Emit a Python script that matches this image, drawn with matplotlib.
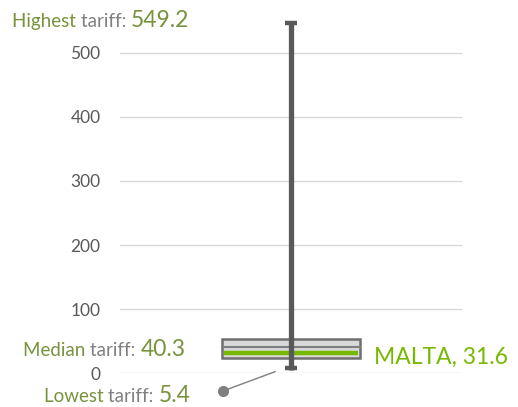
import matplotlib
matplotlib.use("Agg")
import matplotlib.pyplot as plt

plt.rcParams['font.family'] = ['Lato', 'DejaVu Sans']

# data (tariff distribution)
low_val = 5.4
q1_val = 24.0
median_val = 40.3
q3_val = 54.0
high_val = 549.2
country = "MALTA"
country_val = 31.6
yticks = [0, 100, 200, 300, 400, 500]

olive = '#77933C'
grey_txt = '#7F7F7F'
bright = '#76B900'
dark = '#595959'

W, H = 518, 407
fig = plt.figure(figsize=(W / 100, H / 100), dpi=100)
ax = fig.add_axes([120 / W, (H - 373.3) / H, 342 / W, 560 * 0.6412 / H])
ax.set_xlim(-1, 1)
ax.set_ylim(0, 560)

# grid
for v in yticks:
    ax.axhline(v, color='#D9D9D9', lw=1.0, zorder=0)
for s in ax.spines.values():
    s.set_visible(False)
ax.set_xticks([])
ax.set_yticks(yticks)
ax.tick_params(axis='y', length=0, pad=14, labelsize=12.5, labelcolor=dark)

# box
box_w = 138 / 342 * 2
ax.bar(0, q3_val - q1_val, bottom=q1_val, width=box_w, color='#D9D9D9',
       edgecolor='#6F6F6F', linewidth=1.8, zorder=2)
ax.plot([-box_w / 2, box_w / 2], [median_val, median_val], color='#7F7F7F', lw=1.5, zorder=3)
ax.plot([-box_w / 2 + 0.01, box_w / 2 - 0.01], [country_val, country_val], color=bright, lw=3.2,
        solid_capstyle='butt', zorder=3)

# whisker
ax.plot([0, 0], [low_val, high_val], color=dark, lw=3.8, solid_capstyle='butt', zorder=4)
cap_w = 12 / 342 * 2
for v, off in [(high_val, -3), (low_val, 3)]:
    ax.plot([-cap_w / 2, cap_w / 2], [v + off, v + off], color=dark, lw=3.2,
            solid_capstyle='butt', zorder=4)

renderer = fig.canvas.get_renderer()


def rich_text(x_px, base_px, parts):
    x = x_px
    for txt, col, size in parts:
        t = fig.text(x / W, 1 - base_px / H, txt, color=col, fontsize=size,
                     va='baseline', ha='left')
        x += t.get_window_extent(renderer).width


rich_text(12, 27, [("Highest ", olive, 13.5), ("tariff: ", grey_txt, 13.5),
                   ("%.1f" % high_val, olive, 16.5)])
rich_text(23, 356, [("Median ", olive, 13.5), ("tariff: ", grey_txt, 13.5),
                    ("%.1f" % median_val, olive, 16.5)])
rich_text(44, 402, [("Lowest ", olive, 13.5), ("tariff: ", grey_txt, 13.5),
                    ("%.1f" % low_val, olive, 16.5)])
rich_text(374, 364, [("%s, %.1f" % (country, country_val), bright, 16.5)])

# pointer from lowest label
fig.add_artist(plt.Line2D([223 / W, 275 / W], [1 - 391 / H, 1 - 371.7 / H],
                          color='#7F7F7F', lw=1.0))
fig.add_artist(plt.Line2D([223 / W], [1 - 391 / H], marker='o', ms=7,
                          color='#7F7F7F', lw=0))

fig.savefig('out.png', dpi=100)
